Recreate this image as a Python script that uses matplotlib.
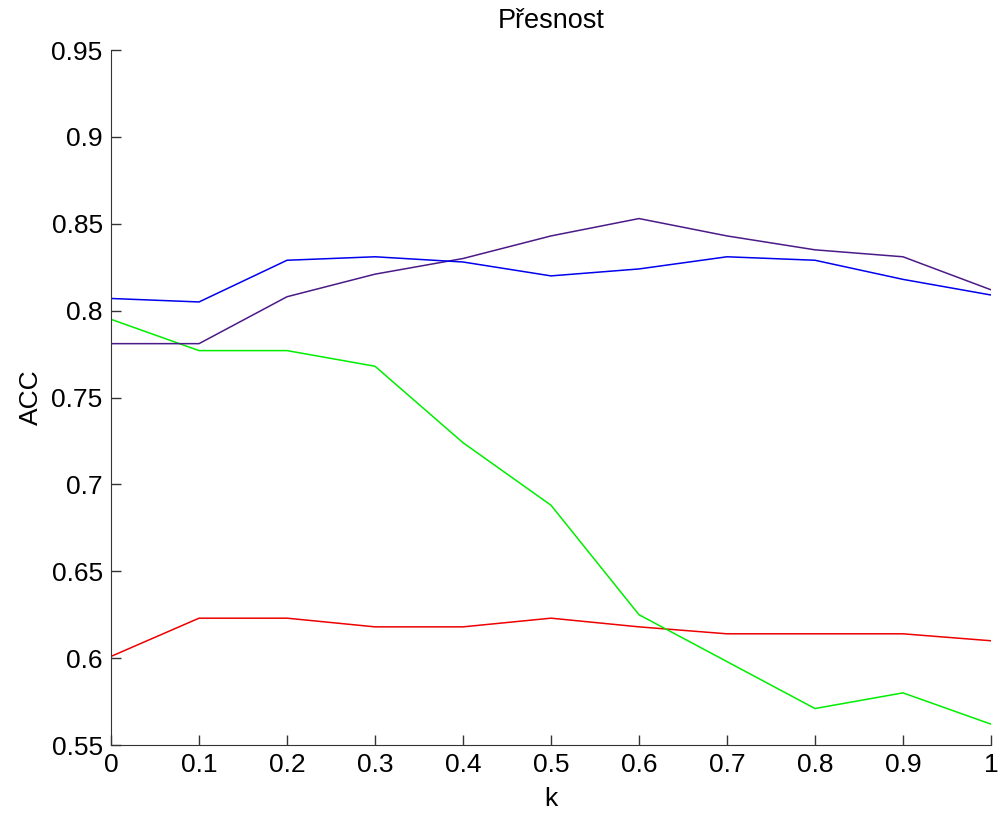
import matplotlib
matplotlib.use("Agg")
import matplotlib.pyplot as plt

plt.rcParams["font.family"] = ["Liberation Sans", "DejaVu Sans"]

k = [0, 0.1, 0.2, 0.3, 0.4, 0.5, 0.6, 0.7, 0.8, 0.9, 1]

acc_blue = [0.807, 0.805, 0.829, 0.831, 0.828, 0.820, 0.824, 0.831, 0.829, 0.818, 0.809]
acc_purple = [0.781, 0.781, 0.808, 0.821, 0.830, 0.843, 0.853, 0.843, 0.835, 0.831, 0.812]
acc_green = [0.795, 0.777, 0.777, 0.768, 0.724, 0.688, 0.625, 0.598, 0.571, 0.580, 0.562]
acc_red = [0.601, 0.623, 0.623, 0.618, 0.618, 0.623, 0.618, 0.614, 0.614, 0.614, 0.610]

yticks = [0.55, 0.6, 0.65, 0.7, 0.75, 0.8, 0.85, 0.9, 0.95]
xticks = [0, 0.1, 0.2, 0.3, 0.4, 0.5, 0.6, 0.7, 0.8, 0.9, 1]
xticklabels = ["0", "0.1", "0.2", "0.3", "0.4", "0.5", "0.6", "0.7", "0.8", "0.9", "1"]
ytick_labels = ["0.55", "0.6", "0.65", "0.7", "0.75", "0.8", "0.85", "0.9", "0.95"]

fig = plt.figure(figsize=(10.03, 8.16), dpi=100)
ax = fig.add_axes([0.1107, 0.087, 0.8773, 0.8517])

ax.plot(k, acc_red, color="#ee0000", lw=1.1)
ax.plot(k, acc_green, color="#00ee00", lw=1.1)
ax.plot(k, acc_purple, color="#4b1a88", lw=1.1)
ax.plot(k, acc_blue, color="#0000ee", lw=1.1)

ax.set_xlim(0, 1)
ax.set_ylim(0.55, 0.95)
ax.set_xticks(xticks)
ax.set_xticklabels(xticklabels)
ax.set_yticks(yticks)
ax.set_yticklabels(ytick_labels)

ax.spines["top"].set_visible(False)
ax.spines["right"].set_visible(False)
ax.spines["left"].set_color("#333333")
ax.spines["bottom"].set_color("#333333")
ax.tick_params(direction="in", length=7, width=1, labelsize=19, pad=6, colors="#333333", labelcolor="black")

ax.set_xlabel("k", fontsize=19, labelpad=7)
ax.set_ylabel("ACC", fontsize=19, labelpad=6)
ax.set_title("Přesnost", fontsize=19.5, pad=16)

plt.savefig("out.png", dpi=100)
